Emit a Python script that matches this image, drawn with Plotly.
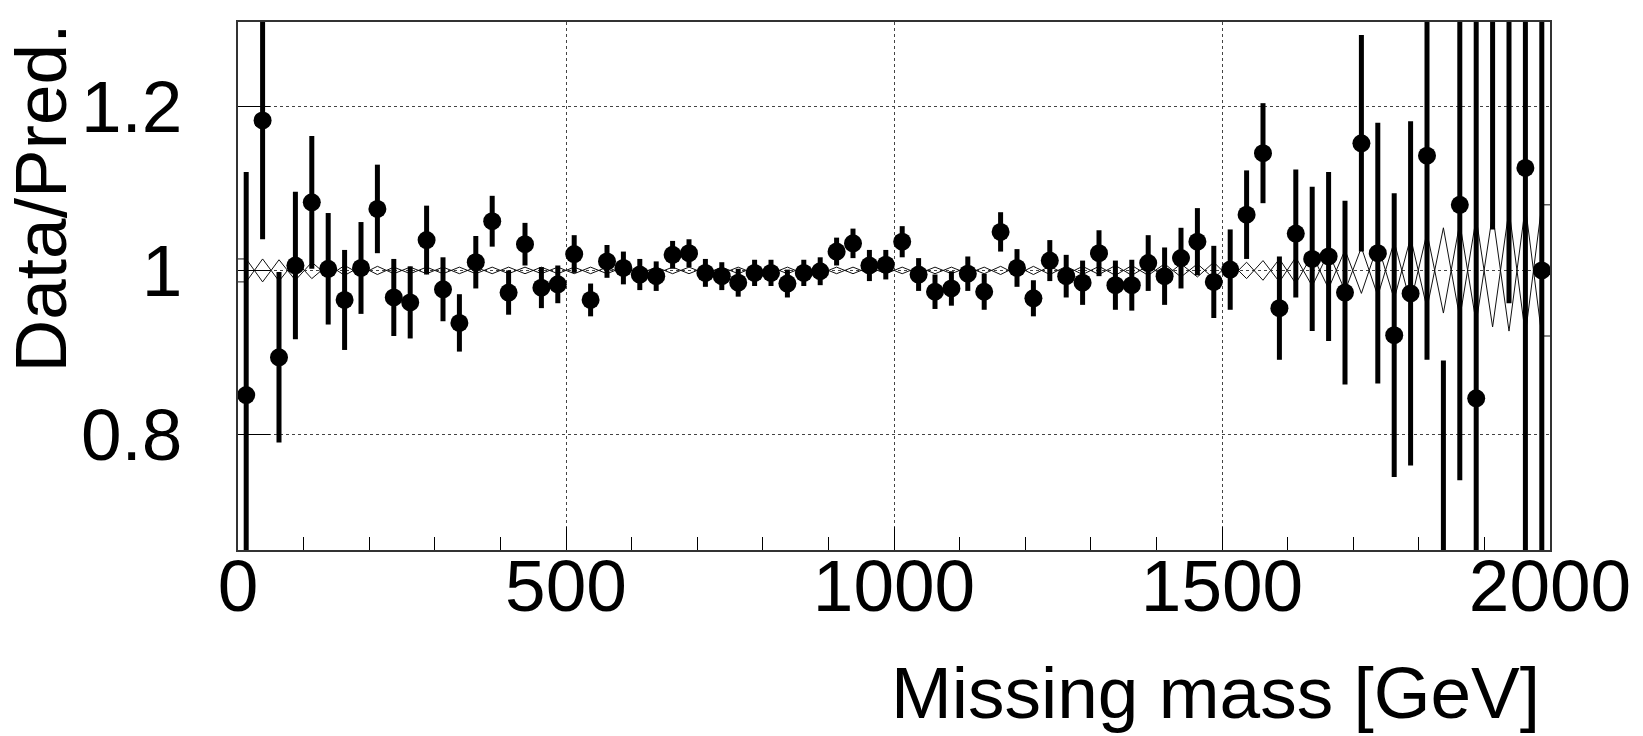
import plotly.graph_objects as go

# ---------------- data ----------------
x_range = [0, 2000]
y_range = [0.659, 1.303]
bin_centers = [12.5 + 25 * i for i in range(80)]  # 25 GeV bins, 0-2000 GeV

ratio = [
    0.848, 1.183, 0.894, 1.006, 1.083, 1.002, 0.964, 1.003, 1.075, 0.967,
    0.961, 1.037, 0.977, 0.936, 1.010, 1.060, 0.973, 1.032, 0.979, 0.983,
    1.020, 0.964, 1.011, 1.003, 0.995, 0.993, 1.019, 1.021, 0.997, 0.993,
    0.985, 0.997, 0.997, 0.984, 0.997, 0.999, 1.023, 1.033, 1.006, 1.007,
    1.035, 0.995, 0.974, 0.978, 0.996, 0.974, 1.047, 1.003, 0.966, 1.012,
    0.993, 0.985, 1.021, 0.982, 0.982, 1.009, 0.993, 1.015, 1.035, 0.986,
    1.001, 1.068, 1.143, 0.954, 1.045, 1.014, 1.017, 0.973, 1.155, 1.021,
    0.921, 0.972, 1.140, 0.600, 1.080, 0.844, 1.450, 1.400, 1.125, 1.000,
]
ratio_err = [
    0.272, 0.145, 0.104, 0.090, 0.081, 0.068, 0.061, 0.056, 0.054, 0.047,
    0.044, 0.042, 0.039, 0.035, 0.032, 0.031, 0.027, 0.026, 0.025, 0.023,
    0.023, 0.020, 0.020, 0.020, 0.019, 0.018, 0.017, 0.017, 0.017, 0.017,
    0.017, 0.016, 0.016, 0.017, 0.016, 0.017, 0.017, 0.018, 0.019, 0.018,
    0.019, 0.020, 0.021, 0.021, 0.021, 0.022, 0.024, 0.023, 0.022, 0.025,
    0.026, 0.027, 0.028, 0.030, 0.031, 0.034, 0.035, 0.037, 0.041, 0.044,
    0.049, 0.054, 0.061, 0.063, 0.078, 0.088, 0.103, 0.112, 0.132, 0.159,
    0.173, 0.210, 0.249, 0.290, 0.336, 0.500, 0.400, 0.440, 0.500, 0.600,
]
# MC statistical uncertainty band (half width) around 1
band_err = [
    0.014, 0.014, 0.013, 0.012, 0.010, 0.007, 0.006, 0.005, 0.005, 0.004,
    0.004, 0.004, 0.004, 0.004, 0.004, 0.004, 0.004, 0.004, 0.004, 0.004,
    0.004, 0.004, 0.004, 0.004, 0.004, 0.004, 0.004, 0.004, 0.004, 0.004,
    0.004, 0.004, 0.004, 0.004, 0.004, 0.004, 0.004, 0.004, 0.004, 0.004,
    0.004, 0.004, 0.004, 0.004, 0.004, 0.004, 0.005, 0.005, 0.005, 0.005,
    0.005, 0.005, 0.005, 0.006, 0.006, 0.006, 0.008, 0.008, 0.008, 0.010,
    0.010, 0.010, 0.012, 0.014, 0.016, 0.019, 0.022, 0.025, 0.028, 0.031,
    0.035, 0.040, 0.046, 0.052, 0.058, 0.064, 0.069, 0.074, 0.078, 0.080,
]
x_tick_vals = [0, 500, 1000, 1500, 2000]
x_tick_text = ["0", "500", "1000", "1500", "2000"]
y_tick_vals = [0.8, 1.0, 1.2]
y_tick_text = ["0.8", "1", "1.2"]
x_title = "Missing mass [GeV]"
y_title = "Data/Pred."

FONT = "Liberation Sans, Arial, Helvetica, sans-serif"
FS = 73

fig = go.Figure()

# hatched-looking uncertainty band: two zig-zag outlines crossing each other
for phase in (0, 1):
    ys = [1 + e if (i + phase) % 2 == 0 else 1 - e for i, e in enumerate(band_err)]
    xs = [x_range[0]] + bin_centers + [x_range[1]]
    ys = [ys[0]] + ys + [ys[-1]]
    fig.add_trace(go.Scatter(
        x=xs, y=ys, mode="lines",
        line=dict(color="#111111", width=1),
        hoverinfo="skip", showlegend=False,
    ))

# data / prediction points
fig.add_trace(go.Scatter(
    x=bin_centers, y=ratio, mode="markers",
    marker=dict(symbol="circle", size=18, color="black"),
    error_y=dict(type="data", array=ratio_err, visible=True,
                 thickness=5, width=0, color="black"),
    showlegend=False, cliponaxis=True,
))

axis_common = dict(
    showline=True, linecolor="#333333", linewidth=2, mirror=True,
    showgrid=True, gridcolor="#444444", gridwidth=1, griddash="dot",
    zeroline=False, ticks="inside", tickcolor="black", tickwidth=1,
    tickfont=dict(family=FONT, size=FS, color="black"),
)

fig.update_xaxes(
    range=x_range, tickvals=x_tick_vals, ticktext=x_tick_text,
    ticklen=23, ticklabelstandoff=-29,
    minor=dict(dtick=100, ticklen=13, ticks="inside", tickcolor="black",
               tickwidth=1, showgrid=False),
    **axis_common,
)
fig.update_yaxes(
    range=y_range, tickvals=y_tick_vals, ticktext=y_tick_text,
    ticklen=32, ticklabelstandoff=39,
    **axis_common,
)

fig.add_annotation(
    text=x_title, xref="paper", yref="paper", x=1, y=0,
    xanchor="right", yanchor="top", xshift=-8, yshift=-100,
    showarrow=False, font=dict(family=FONT, size=FS, color="black"),
)
fig.add_annotation(
    text=y_title, xref="paper", yref="paper", x=0, y=1,
    xanchor="center", yanchor="top", xshift=-198, yshift=0,
    textangle=-90, showarrow=False,
    font=dict(family=FONT, size=FS, color="black"),
)

fig.update_layout(
    width=1643, height=736,
    margin=dict(l=238, r=86, t=22, b=186, pad=0),
    paper_bgcolor="white", plot_bgcolor="white",
    font=dict(family=FONT, color="black"),
)

fig.write_html("out.html")
